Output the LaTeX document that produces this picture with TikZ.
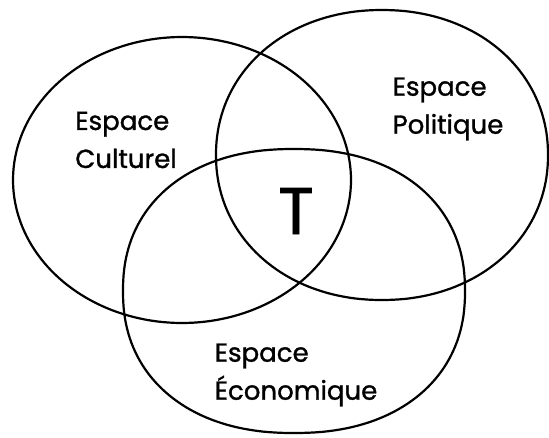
\documentclass[tikz,border=0pt]{standalone}
\usepackage{fontspec}
\newfontfamily\gothic{Poppins}[FakeBold=1.2]
\usepackage{tikz}
\usetikzlibrary{positioning}

% rounded ellipse: centre x, centre y, x radius, y radius, exponent
\newcommand\vennspace[5]{%
  \draw[space] plot[domain=0:360, samples=180]
    ({#1+#3*sign(cos(\x))*abs(cos(\x))^#5}, {#2+#4*sign(sin(\x))*abs(sin(\x))^#5}) -- cycle;}

\begin{document}
\begin{tikzpicture}[x=1pt, y=-1pt]
    \tikzset{
      space/.style={draw=black, line width=2.2pt, line join=round},
      label/.style={font=\gothic\fontsize{26}{38}\selectfont, align=left, inner sep=0pt}
    }
    \useasboundingbox (0,0) rectangle (549,437);

    % Ellipses
    \vennspace{182}{180}{169}{143}{1}
    \vennspace{382}{155}{166}{145}{0.96}
    \vennspace{294}{291}{171}{142}{0.9}

    % Labels
    \node[label] (culturel) at (126,140) {Espace\\Culturel};
    \node[label] (politique) at (448,109) {Espace\\Politique};
    \node[label] (economique) at (296,375) {Espace\\Économique};
    \node[font=\gothic\fontsize{66}{66}\selectfont, inner sep=0pt] (t) at (296,211) {T};
  \end{tikzpicture}
\end{document}
